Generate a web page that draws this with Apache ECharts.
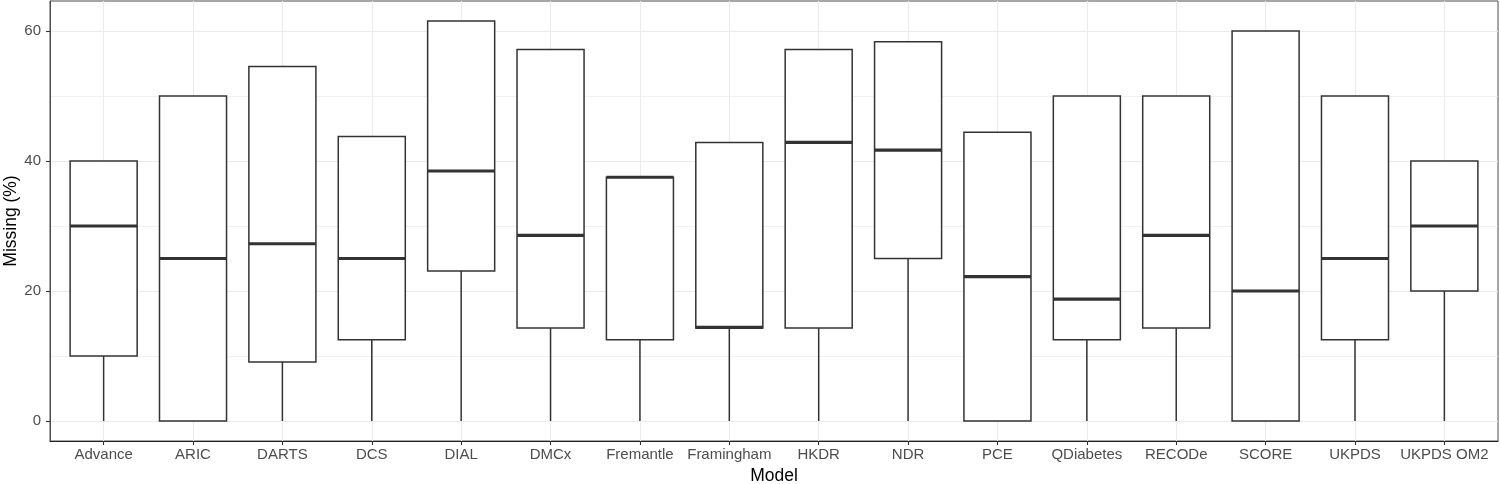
<!DOCTYPE html>
<html><head><meta charset="utf-8">
<script src="https://cdn.jsdelivr.net/npm/echarts@6/dist/echarts.min.js"></script>
<style>html,body{margin:0;padding:0;background:#fff}#c{width:1500px;height:484px}</style>
</head><body><div id="c"></div>
<script>
const categories = ['Advance','ARIC','DARTS','DCS','DIAL','DMCx','Fremantle','Framingham','HKDR','NDR','PCE','QDiabetes','RECODe','SCORE','UKPDS','UKPDS OM2'];
const lowerWhisker = [0,0,0,0,0,0,0,0,0,0,0,0,0,0,0,0];
const q1 = [10,0,9.09,12.5,23.08,14.29,12.5,14.29,14.29,25,0,12.5,14.29,0,12.5,20];
const median = [30,25,27.27,25,38.46,28.57,37.5,14.4,42.86,41.67,22.22,18.75,28.57,20,25,30];
const q3 = [40,50,54.55,43.75,61.54,57.14,37.5,42.86,57.14,58.33,44.44,50,50,60,50,40];
const upperWhisker = [40,50,54.55,43.75,61.54,57.14,37.5,42.86,57.14,58.33,44.44,50,50,60,50,40];
const yTicks = [0,20,40,60];
const yMinorTicks = [10,30,50];

const FONT = '"Liberation Sans", Arial, sans-serif';
const boxData = categories.map((c, i) => [i, lowerWhisker[i], q1[i], median[i], q3[i], upperWhisker[i]]);
const xTickValues = categories.map((c, i) => i);

const chart = echarts.init(document.getElementById('c'), null, {renderer: 'canvas'});
chart.setOption({
  animation: false,
  backgroundColor: '#ffffff',
  grid: {left: 50, right: 2, top: 1, bottom: 43, containLabel: false, outerBoundsMode: 'none',
    show: true, borderColor: '#4d4d4d', borderWidth: 1, backgroundColor: '#ffffff'},
  xAxis: {
    type: 'value', min: -0.6, max: 15.6,
    name: 'Model', nameLocation: 'middle', nameGap: 26, nameMoveOverlap: false,
    nameTextStyle: {fontFamily: FONT, fontSize: 17.5, color: '#000'},
    axisLine: {show: true, onZero: false, lineStyle: {color: '#222', width: 1.2}},
    axisTick: {show: true, length: 4, customValues: xTickValues, lineStyle: {color: '#333', width: 1.1}},
    axisLabel: {customValues: xTickValues, margin: 6, fontFamily: FONT, fontSize: 15, color: '#4d4d4d',
      formatter: v => categories[Math.round(v)] || ''},
    splitLine: {show: true, lineStyle: {color: '#ebebeb', width: 1.1}}
  },
  yAxis: [{
    type: 'value', min: -3.077, max: 64.615,
    name: 'Missing (%)', nameLocation: 'middle', nameGap: 30, nameRotate: 90, nameMoveOverlap: false,
    nameTextStyle: {fontFamily: FONT, fontSize: 17.5, color: '#000'},
    axisLine: {show: true, onZero: false, lineStyle: {color: '#4d4d4d', width: 1}},
    axisTick: {show: true, length: 4, customValues: yTicks, lineStyle: {color: '#333', width: 1.1}},
    axisLabel: {customValues: yTicks, margin: 9, fontFamily: FONT, fontSize: 15, color: '#4d4d4d'},
    splitLine: {show: true, lineStyle: {color: '#ebebeb', width: 1.1}}
  }, {
    type: 'value', min: -3.077, max: 64.615, position: 'left',
    axisLine: {show: false, onZero: false}, axisLabel: {show: false},
    axisTick: {show: false, customValues: yMinorTicks},
    splitLine: {show: true, lineStyle: {color: '#ebebeb', width: 0.7}}
  }],
  series: [{
    type: 'custom',
    data: boxData,
    encode: {x: 0, y: [1, 2, 3, 4, 5]},
    clip: true,
    renderItem: function (params, api) {
      const x = api.value(0);
      const halfW = api.size([0.75, 0])[0] / 2;
      const pLw = api.coord([x, api.value(1)]);
      const pQ1 = api.coord([x, api.value(2)]);
      const pMed = api.coord([x, api.value(3)]);
      const pQ3 = api.coord([x, api.value(4)]);
      const pUw = api.coord([x, api.value(5)]);
      const stroke = '#333333';
      return {
        type: 'group',
        children: [
          {type: 'line', shape: {x1: pLw[0], y1: pLw[1], x2: pQ1[0], y2: pQ1[1]}, style: {stroke: stroke, lineWidth: 1.5}},
          {type: 'line', shape: {x1: pQ3[0], y1: pQ3[1], x2: pUw[0], y2: pUw[1]}, style: {stroke: stroke, lineWidth: 1.5}},
          {type: 'rect', shape: {x: pQ1[0] - halfW, y: pQ3[1], width: 2 * halfW, height: pQ1[1] - pQ3[1]},
            style: {fill: '#ffffff', stroke: stroke, lineWidth: 1.5}},
          {type: 'line', shape: {x1: pMed[0] - halfW, y1: pMed[1], x2: pMed[0] + halfW, y2: pMed[1]},
            style: {stroke: stroke, lineWidth: 3.2}}
        ]
      };
    }
  }]
});
</script></body></html>
